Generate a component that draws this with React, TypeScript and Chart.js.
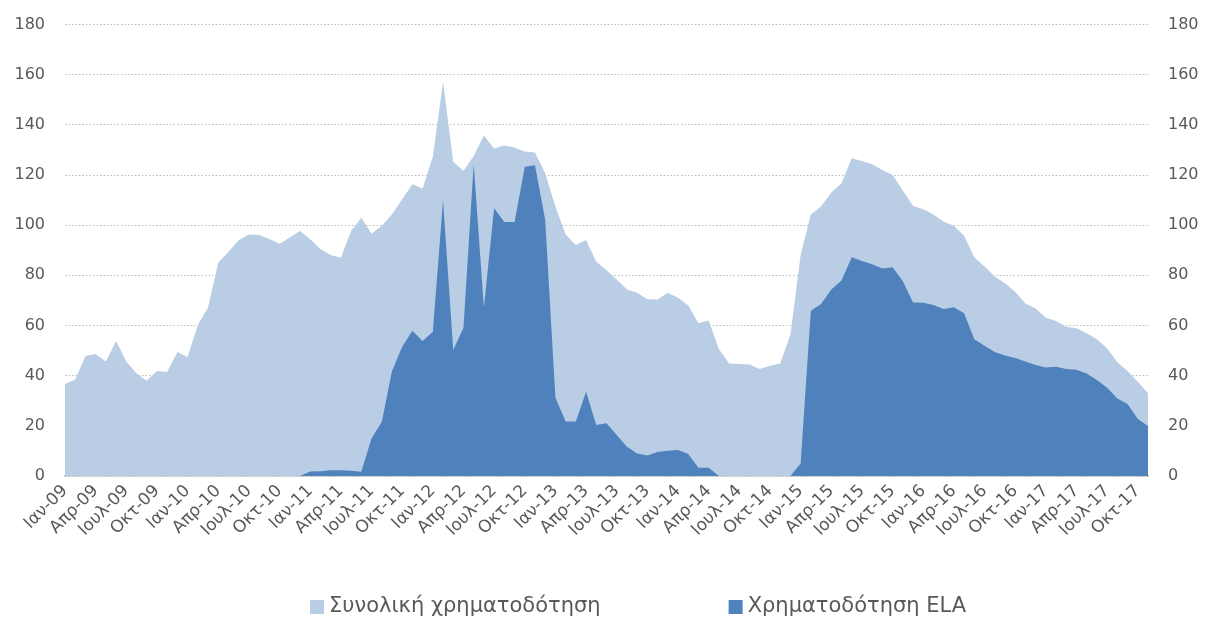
import React, { useEffect, useRef } from 'react';
import { Chart, registerables } from 'chart.js';

Chart.register(...registerables);

const MONTHS = ['Ιαν', 'Φεβ', 'Μαρ', 'Απρ', 'Μαϊ', 'Ιουν', 'Ιουλ', 'Αυγ', 'Σεπ', 'Οκτ', 'Νοε', 'Δεκ'];
const YEARS = ['09', '10', '11', '12', '13', '14', '15', '16', '17'];
const categories: string[] = YEARS.flatMap((y) => MONTHS.map((m) => `${m}-${y}`)).slice(0, 107);

const SERIES_NAMES = ['Συνολική χρηματοδότηση', 'Χρηματοδότηση ELA'];

const totalFunding = [
  36.7, 38.5, 47.8, 48.6, 45.6, 53.8, 45.6, 40.9, 38.0, 41.9, 41.5, 49.4,
  47.4, 60.2, 67.2, 85.0, 89.4, 94.0, 96.3, 96.1, 94.5, 92.6, 95.1, 97.7,
  94.4, 90.5, 88.1, 87.0, 97.7, 103.0, 96.6, 99.8, 104.3, 110.3, 116.3, 114.6,
  127.3, 157.2, 125.3, 121.6, 127.6, 135.7, 130.6, 131.8, 131.0, 129.4, 129.0, 120.7,
  107.4, 96.3, 92.1, 94.1, 85.4, 82.0, 78.3, 74.4, 73.1, 70.5, 70.4, 73.1,
  71.1, 68.0, 60.9, 62.0, 50.6, 44.9, 44.7, 44.5, 42.7, 44.0, 44.9, 56.2,
  88.1, 104.3, 107.4, 113.0, 116.7, 126.7, 125.6, 124.3, 122.0, 120.0, 113.8, 107.6,
  106.3, 104.3, 101.4, 99.8, 95.8, 87.2, 83.5, 79.5, 76.8, 73.5, 68.8, 66.8,
  63.1, 61.8, 59.5, 58.9, 56.9, 54.5, 50.9, 45.3, 41.9, 37.6, 33.0,
];

const elaFunding = [
  0, 0, 0, 0, 0, 0, 0, 0, 0, 0, 0, 0,
  0, 0, 0, 0, 0, 0, 0, 0, 0, 0, 0, 0,
  1.8, 1.9, 2.3, 2.3, 2.1, 1.7, 15.0, 21.5, 41.8, 51.5, 57.9, 53.8,
  57.5, 109.8, 50.2, 59.1, 124.4, 67.2, 106.7, 101.3, 101.3, 123.3, 123.9, 102.1,
  31.2, 21.7, 21.7, 33.6, 20.3, 21.0, 16.3, 11.7, 9.0, 8.2, 9.6, 10.1,
  10.4, 8.8, 3.3, 3.3, 0, 0, 0, 0, 0, 0, 0, 0,
  5.0, 65.9, 68.6, 74.4, 77.9, 87.2, 85.7, 84.4, 82.7, 83.2, 77.7, 69.2,
  69.1, 68.2, 66.6, 67.3, 64.9, 54.5, 51.9, 49.4, 48.0, 47.0, 45.6, 44.3,
  43.3, 43.6, 42.7, 42.4, 40.9, 38.3, 35.2, 30.9, 28.7, 22.7, 19.9,
];

const Y_MIN = 0;
const Y_MAX = 180;
const Y_STEP = 20;

const LIGHT = '#b9cde5';
const DARK = '#4f81bd';
const TEXT = '#595959';
const FONT = '"DejaVu Sans", Verdana, sans-serif';

const legendPlugin = {
  id: 'bottomLegend',
  afterDraw(chart: any) {
    const ctx = chart.ctx as CanvasRenderingContext2D;
    ctx.save();
    ctx.font = `21px ${FONT}`;
    ctx.textBaseline = 'middle';
    ctx.textAlign = 'left';
    const y = 607;
    let x = 310;
    const items = [...chart.data.datasets];
    items.forEach((ds: any) => {
      ctx.fillStyle = ds.backgroundColor;
      ctx.fillRect(x, y - 7, 14, 14);
      x += 14 + 5;
      ctx.fillStyle = TEXT;
      ctx.fillText(ds.label, x, y);
      x += ctx.measureText(ds.label).width + 128;
    });
    ctx.restore();
  },
};

export default function App() {
  const canvasRef = useRef<HTMLCanvasElement | null>(null);

  useEffect(() => {
    if (!canvasRef.current) return;
    const chart = new Chart(canvasRef.current, {
      type: 'line',
      data: {
        labels: categories,
        datasets: [
          {
            label: SERIES_NAMES[0],
            data: totalFunding,
            backgroundColor: LIGHT,
            borderColor: LIGHT,
            borderWidth: 0,
            pointRadius: 0,
            fill: 'origin',
            tension: 0,
            order: 2,
          },
          {
            label: SERIES_NAMES[1],
            data: elaFunding,
            backgroundColor: DARK,
            borderColor: DARK,
            borderWidth: 0,
            pointRadius: 0,
            fill: 'origin',
            tension: 0,
            order: 1,
          },
        ],
      },
      options: {
        animation: false,
        responsive: true,
        maintainAspectRatio: false,
        layout: { padding: { top: 24.5, left: 0, right: 0, bottom: 0 } },
        plugins: {
          legend: { display: false },
          tooltip: { enabled: false },
        },
        scales: {
          x: {
            type: 'category',
            offset: false,
            grid: { display: false, drawTicks: false },
            border: { display: true, color: '#bfbfbf', width: 1.5 },
            ticks: {
              autoSkip: false,
              maxRotation: 45,
              minRotation: 45,
              padding: 5,
              color: TEXT,
              font: { family: FONT, size: 17 },
              callback: function (this: any, value: any, index: number) {
                return index % 3 === 0 ? this.getLabelForValue(value) : '';
              },
            },
            afterFit: (scale: any) => {
              scale.height = 143;
            },
          },
          y: {
            position: 'left',
            min: Y_MIN,
            max: Y_MAX,
            border: { display: false, dash: [1.5, 2] },
            grid: { color: '#bdbdbd', lineWidth: 1, drawTicks: false },
            ticks: {
              stepSize: Y_STEP,
              padding: 20,
              color: TEXT,
              font: { family: FONT, size: 16 },
            },
            afterFit: (scale: any) => {
              scale.width = 65;
              scale.paddingTop = 0;
              scale.paddingBottom = 0;
            },
          },
          y2: {
            position: 'right',
            min: Y_MIN,
            max: Y_MAX,
            border: { display: false },
            grid: { display: false, drawTicks: false },
            ticks: {
              stepSize: Y_STEP,
              padding: 20,
              color: TEXT,
              font: { family: FONT, size: 16 },
            },
            afterFit: (scale: any) => {
              scale.width = 58;
              scale.paddingTop = 0;
              scale.paddingBottom = 0;
            },
          },
        },
      },
      plugins: [legendPlugin],
    });
    return () => chart.destroy();
  }, []);

  return (
    <div style={{ position: 'absolute', left: 0, top: 0, width: 1206, height: 619, background: '#fff' }}>
      <canvas ref={canvasRef} />
    </div>
  );
}
